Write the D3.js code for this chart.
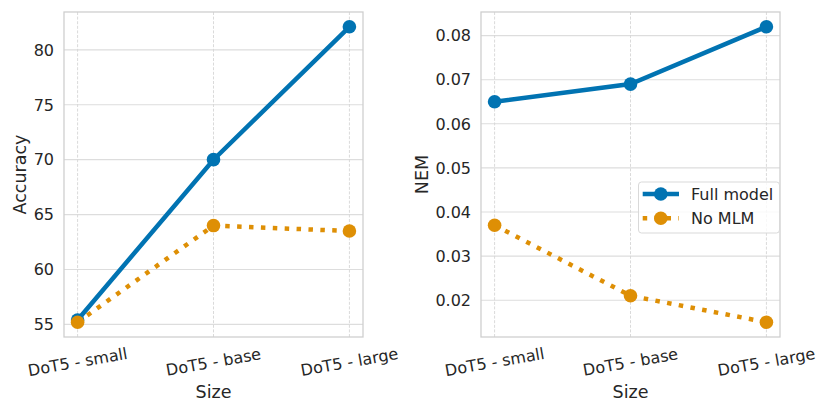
<!DOCTYPE html>
<html>
<head>
<meta charset="utf-8">
<script src="https://cdn.jsdelivr.net/npm/d3@7"></script>
<style>
  body { margin: 0; background: #fff; }
  svg { font-family: "DejaVu Sans", sans-serif; }
  text { fill: #262626; }
</style>
</head>
<body>
<svg id="chart" width="830" height="415"></svg>
<script>
// chart data
var sizes = ["DoT5 - small", "DoT5 - base", "DoT5 - large"];
var seriesNames = ["Full model", "No MLM"];
var accFull = [55.4, 70, 82.1];
var accNoMlm = [55.2, 64, 63.5];
var nemFull = [0.065, 0.069, 0.082];
var nemNoMlm = [0.037, 0.021, 0.015];
var accTicks = [55, 60, 65, 70, 75, 80];
var nemTicks = [0.02, 0.03, 0.04, 0.05, 0.06, 0.07, 0.08];

var colors = ["#0173b2", "#de8f05"];
var dashes = [null, "4.5,7.4"];

var svg = d3.select("#chart");

/**
 * Draw one panel (frame, grid, ticks, labels, both series).
 */
function drawPanel(opts) {
    var g = svg.append("g");
    var left = opts.left, right = opts.right, top = 12, bottom = 337;

    // category axis with matplotlib-like margins: index -0.1 .. 2.1
    var xi = d3.scaleLinear().domain([-0.1, sizes.length - 0.9]).range([left, right]);
    var x = function (d) { return xi(sizes.indexOf(d)); };

    var all = opts.series[0].concat(opts.series[1]);
    var lo = d3.min(all), hi = d3.max(all), m = (hi - lo) * 0.05;
    var y = d3.scaleLinear().domain([lo - m, hi + m]).range([bottom, top]);

    // horizontal grid
    g.selectAll(".hg").data(opts.ticks).enter().append("line")
        .attr("x1", left).attr("x2", right)
        .attr("y1", d => y(d)).attr("y2", d => y(d))
        .style("stroke", "#dddddd").style("stroke-width", 1.1);

    // vertical dashed grid
    g.selectAll(".vg").data(sizes).enter().append("line")
        .attr("x1", d => x(d)).attr("x2", d => x(d))
        .attr("y1", top).attr("y2", bottom)
        .style("stroke", "#d6d6d6").style("stroke-width", 0.9)
        .style("stroke-dasharray", "3,1.6");

    // frame
    g.append("rect")
        .attr("x", left).attr("y", top)
        .attr("width", right - left).attr("height", bottom - top)
        .style("fill", "none").style("stroke", "#cfcfcf").style("stroke-width", 1.3);

    // y tick labels
    g.selectAll(".yt").data(opts.ticks).enter().append("text")
        .attr("x", left - 10).attr("y", d => y(d))
        .attr("dy", "0.36em")
        .attr("text-anchor", "end")
        .style("font-size", "16px")
        .text(d => opts.fmt(d));

    // x tick labels, rotated
    g.selectAll(".xt").data(sizes).enter().append("text")
        .attr("text-anchor", "middle")
        .attr("dominant-baseline", "central")
        .attr("transform", d => "translate(" + x(d) + ",362) rotate(-10)")
        .style("font-size", "16px")
        .text(d => d);

    // axis titles
    g.append("text")
        .attr("x", (left + right) / 2).attr("y", 398)
        .attr("text-anchor", "middle")
        .style("font-size", "17.5px")
        .text("Size");
    g.append("text")
        .attr("transform", "translate(" + opts.ylabelX + "," + (top + bottom) / 2 + ") rotate(-90)")
        .attr("text-anchor", "middle")
        .style("font-size", "17.5px")
        .text(opts.ylabel);

    var line = d3.line().x((d, i) => x(sizes[i])).y(d => y(d));

    opts.series.forEach(function (vals, s) {
        g.append("path")
            .datum(vals)
            .attr("d", line)
            .style("fill", "none")
            .style("stroke", colors[s])
            .style("stroke-width", 4.5)
            .style("stroke-dasharray", dashes[s]);
        g.selectAll(".pt" + s).data(vals).enter().append("circle")
            .attr("cx", (d, i) => x(sizes[i]))
            .attr("cy", d => y(d))
            .attr("r", 6.8)
            .style("fill", colors[s]);
    });

    return g;
}

drawPanel({
    left: 64, right: 363,
    series: [accFull, accNoMlm],
    ticks: accTicks,
    fmt: d3.format("d"),
    ylabel: "Accuracy",
    ylabelX: 26
});

drawPanel({
    left: 481, right: 780,
    series: [nemFull, nemNoMlm],
    ticks: nemTicks,
    fmt: d3.format(".2f"),
    ylabel: "NEM",
    ylabelX: 428
});

// legend
var lg = svg.append("g");
lg.append("rect")
    .attr("x", 638.5).attr("y", 182)
    .attr("width", 141).attr("height", 51)
    .attr("rx", 3)
    .style("fill", "#ffffff").style("fill-opacity", 0.8)
    .style("stroke", "#d9d9d9").style("stroke-width", 1);
seriesNames.forEach(function (name, s) {
    var yy = 194 + s * 24.3;
    lg.append("line")
        .attr("x1", 642.7).attr("x2", 679)
        .attr("y1", yy).attr("y2", yy)
        .style("stroke", colors[s]).style("stroke-width", 4.5)
        .style("stroke-dasharray", dashes[s]);
    lg.append("circle")
        .attr("cx", 660.8).attr("cy", yy).attr("r", 6.8)
        .style("fill", colors[s]);
    lg.append("text")
        .attr("x", 691).attr("y", yy).attr("dy", "0.36em")
        .style("font-size", "16px")
        .text(name);
});
</script>
</body>
</html>
